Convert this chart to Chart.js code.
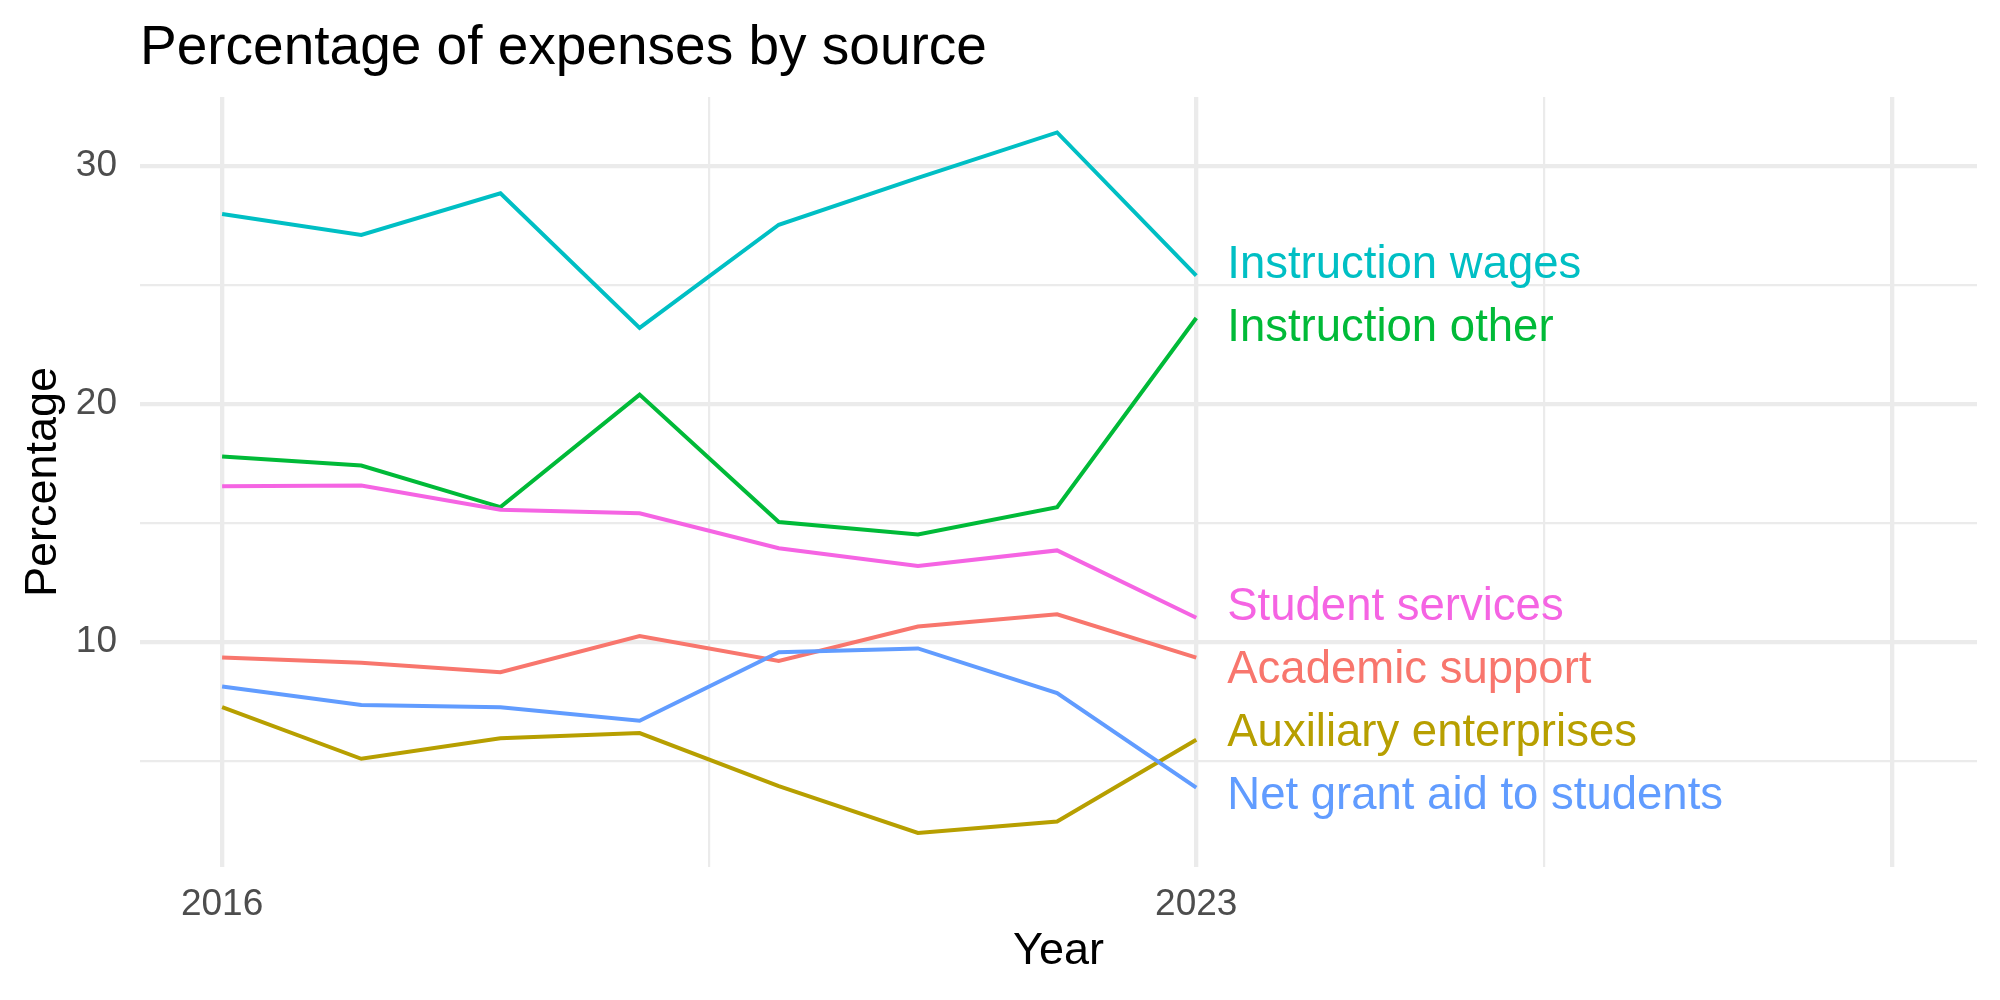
<!DOCTYPE html>
<html lang="en">
<head>
    <meta charset="UTF-8">
    <title>Percentage of expenses by source</title>
    <script src="https://cdn.jsdelivr.net/npm/chart.js"></script>
    <style>
        body {
            margin: 0;
            background: white;
        }
        #expenseChart {
            display: block;
        }
    </style>
</head>
<body>
    <canvas id="expenseChart" width="2000" height="1000"></canvas>

    <script>
        // data
        const years = [2016, 2017, 2018, 2019, 2020, 2021, 2022, 2023];
        const seriesNames = ['Academic support', 'Auxiliary enterprises', 'Instruction other',
            'Instruction wages', 'Net grant aid to students', 'Student services'];
        const academicSupport = [9.34, 9.12, 8.72, 10.24, 9.19, 10.64, 11.15, 9.33];
        const auxiliaryEnterprises = [7.25, 5.08, 5.94, 6.16, 3.93, 1.96, 2.44, 5.88];
        const instructionOther = [17.79, 17.41, 15.66, 20.39, 15.03, 14.51, 15.66, 23.61];
        const instructionWages = [27.98, 27.1, 28.85, 23.19, 27.53, 29.5, 31.41, 25.39];
        const netGrantAid = [8.12, 7.34, 7.25, 6.68, 9.56, 9.72, 7.84, 3.87];
        const studentServices = [16.54, 16.57, 15.55, 15.4, 13.93, 13.18, 13.84, 11.01];
        // where the end labels sit (after repelling)
        const labelY = [8.79, 6.15, 23.16, 25.81, 3.5, 11.44];
        const yTicks = [5, 10, 15, 20, 25, 30];
        const yLabels = [10, 20, 30];
        const xTicks = [2016, 2019.5, 2023, 2025.5, 2028];
        const xLabels = [2016, 2023];

        const seriesValues = [academicSupport, auxiliaryEnterprises, instructionOther,
            instructionWages, netGrantAid, studentServices];
        const colors = ['#F8766D', '#B79F00', '#00BA38', '#00BFC4', '#619CFF', '#F564E3'];
        const fontFamily = "'Liberation Sans', Arial, sans-serif";
        const gridColor = '#EBEBEB';

        const datasets = seriesNames.map((name, i) => ({
            label: name,
            data: years.map((yr, j) => ({ x: yr, y: seriesValues[i][j] })),
            borderColor: colors[i],
            backgroundColor: colors[i],
            borderWidth: 4,
            pointRadius: 0,
            tension: 0,
            fill: false,
            order: seriesNames.length - i
        }));

        // title in the top left, like ggplot
        const titlePlugin = {
            id: 'plotTitle',
            afterDraw(chart) {
                const ctx = chart.ctx;
                ctx.save();
                ctx.font = '55px ' + fontFamily;
                ctx.fillStyle = '#000000';
                ctx.textAlign = 'left';
                ctx.textBaseline = 'alphabetic';
                ctx.fillText('Percentage of expenses by source', 140, 64);
                ctx.restore();
            }
        };

        // series names at the right end of each line
        const endLabels = {
            id: 'endLabels',
            afterDatasetsDraw(chart) {
                const ctx = chart.ctx;
                const xs = chart.scales.x;
                const ys = chart.scales.y;
                const lastYear = years[years.length - 1];
                ctx.save();
                ctx.font = '45.5px ' + fontFamily;
                ctx.textAlign = 'left';
                ctx.textBaseline = 'middle';
                seriesNames.forEach((name, i) => {
                    ctx.fillStyle = colors[i];
                    ctx.fillText(name, xs.getPixelForValue(lastYear) + 31, ys.getPixelForValue(labelY[i]));
                });
                ctx.restore();
            }
        };

        const ctx = document.getElementById('expenseChart').getContext('2d');
        new Chart(ctx, {
            type: 'line',
            data: { datasets: datasets },
            options: {
                responsive: false,
                animation: false,
                layout: {
                    padding: { top: 97, right: 23, left: 0, bottom: 0 }
                },
                plugins: {
                    legend: { display: false },
                    tooltip: { enabled: false }
                },
                scales: {
                    x: {
                        type: 'linear',
                        min: 2015.41,
                        max: 2028.61,
                        afterBuildTicks: (scale) => {
                            scale.ticks = xTicks.map(v => ({ value: v }));
                        },
                        afterFit: (scale) => {
                            scale.height = 133;
                        },
                        ticks: {
                            autoSkip: false,
                            maxRotation: 0,
                            padding: 16,
                            color: '#4D4D4D',
                            font: { family: fontFamily, size: 37 },
                            callback: (v) => xLabels.includes(v) ? String(v) : ''
                        },
                        grid: {
                            color: gridColor,
                            drawTicks: false,
                            lineWidth: (c) => xLabels.includes(c.tick.value) || c.tick.value === 2028 ? 4.3 : 2.2
                        },
                        border: { display: false },
                        title: {
                            display: true,
                            text: 'Year',
                            color: '#000000',
                            font: { family: fontFamily, size: 45 },
                            padding: { top: 0, bottom: 21 }
                        }
                    },
                    y: {
                        min: 0.53,
                        max: 32.9,
                        afterBuildTicks: (scale) => {
                            scale.ticks = yTicks.map(v => ({ value: v }));
                        },
                        afterFit: (scale) => {
                            scale.width = 140;
                        },
                        ticks: {
                            padding: 23,
                            color: '#4D4D4D',
                            font: { family: fontFamily, size: 37 },
                            callback: (v) => yLabels.includes(v) ? String(v) : ''
                        },
                        grid: {
                            color: gridColor,
                            drawTicks: false,
                            lineWidth: (c) => yLabels.includes(c.tick.value) ? 4.3 : 2.2
                        },
                        border: { display: false },
                        title: {
                            display: true,
                            text: 'Percentage',
                            color: '#000000',
                            font: { family: fontFamily, size: 45 },
                            padding: { top: 17, bottom: 0 }
                        }
                    }
                }
            },
            plugins: [titlePlugin, endLabels]
        });
    </script>
</body>
</html>
